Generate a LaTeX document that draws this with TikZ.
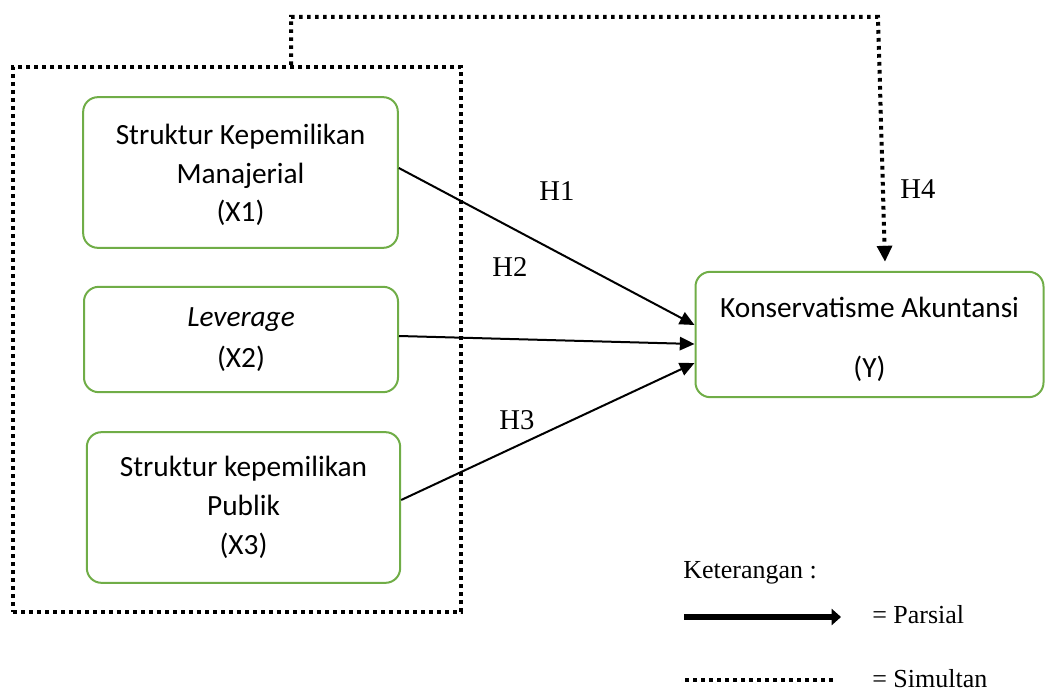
\documentclass[tikz,border=0pt]{standalone}
\usepackage{fontspec}
\setmainfont{Liberation Serif}
\newfontfamily\calibri{Carlito}
\usetikzlibrary{arrows.meta,calc}
\definecolor{boxgreen}{RGB}{112,173,71}
\tikzset{
  var/.style={draw=boxgreen,line width=1.5pt,rounded corners=11pt,align=center,inner sep=0pt,font=\calibri\fontsize{22}{29}\selectfont},
  simul/.style={line width=3pt,dash pattern=on 2.8pt off 3.2pt},
  pars/.style={line width=1.5pt,-{Triangle[length=11pt,width=10pt]}},
  hyp/.style={anchor=base,font=\fontsize{21.5}{24}\selectfont},
  legend/.style={anchor=base west,inner sep=0pt,font=\fontsize{19.5}{22}\selectfont}
}

\begin{document}
\begin{tikzpicture}[x=.75pt,y=-.75pt]
\useasboundingbox (0,0) rectangle (1046,692);

\node[draw,simul,minimum width=336pt,minimum height=408.75pt] (grp) at (237,339.5) {};

\node[var,minimum width=236pt,minimum height=113pt] (x1) at (240.5,172.5) {\rule{0pt}{19pt}Struktur Kepemilikan\\Manajerial\\(X1)};
\node[var,minimum width=235.5pt,minimum height=79pt] (x2) at (241,339.5) {\itshape Leverage\\[2pt](X2)};
\node[var,minimum width=235pt,minimum height=113pt] (x3) at (243.5,507.5) {Struktur kepemilikan\\Publik\\(X3)};
\node[var,minimum width=261pt,minimum height=94pt] (y) at (869.5,334.5) {\rule{0pt}{22pt}Konservatisme Akuntansi\\[16pt](Y)};

\draw[pars] ($(x1.east)+(0,-4.5)$) -- ($(y.west)+(0,-9.5)$);
\draw[pars] ($(x2.east)+(0,-3.5)$) -- ($(y.west)+(0,9.5)$);
\draw[pars] ($(x3.east)+(0,-7.5)$) -- ($(y.west)+(0,28.5)$);

\coordinate (up) at (291,17);
\coordinate (over) at (878,17);
\draw[simul,-{Triangle[length=12pt,width=11pt]}] (grp.north -| up) -- (up) -- (over) -- ($(y.north)+(15.5,-9)$);

\node[hyp] (h1) at (557,200) {H1};
\node[hyp] (h2) at (510,276) {H2};
\node[hyp] (h3) at (517,429) {H3};
\node[hyp] (h4) at (918,198) {H4};

\node[legend] (ket) at (683,578) {Keterangan :};
\coordinate (pa) at (684,617);
\coordinate (pb) at (841,617);
\draw[line width=5pt,-{Triangle[length=7pt,width=12pt]}] (pa) -- (pb);
\node[legend] (par) at (872,623) {= Parsial};
\coordinate (sa) at (685,680);
\coordinate (sb) at (835,680);
\draw[simul] (sa) -- (sb);
\node[legend] (sim) at (872,687) {= Simultan};

\end{tikzpicture}
\end{document}
